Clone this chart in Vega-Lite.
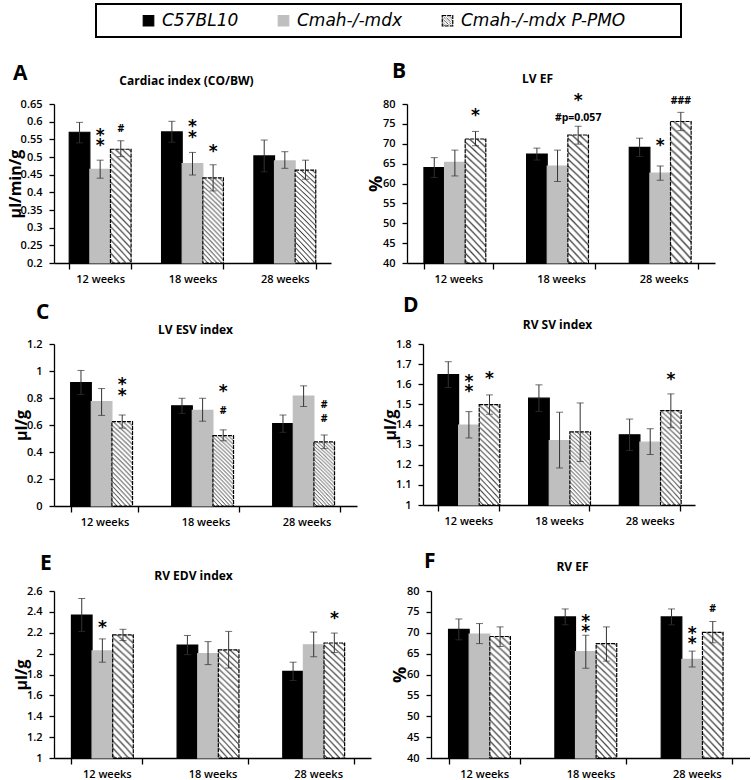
{
  "$schema": "https://vega.github.io/schema/vega-lite/v6.json",
  "padding": {"left": 7, "top": 3, "right": 0, "bottom": 0},
  "params": [
    {"name": "hatch", "expr": "{gradient:'radial',x1:-4.5,y1:5.5,r1:0,x2:-4.5,y2:5.5,r2:8,stops:[{offset:0.78,color:'#333'},{offset:0.7812,color:'#fff'},{offset:0.7838,color:'#fff'},{offset:0.785,color:'#333'},{offset:0.7862,color:'#fff'},{offset:0.7888,color:'#fff'},{offset:0.79,color:'#333'},{offset:0.7912,color:'#fff'},{offset:0.7938,color:'#fff'},{offset:0.795,color:'#333'},{offset:0.7962,color:'#fff'},{offset:0.7988,color:'#fff'},{offset:0.8,color:'#333'},{offset:0.8012,color:'#fff'},{offset:0.8038,color:'#fff'},{offset:0.805,color:'#333'},{offset:0.8062,color:'#fff'},{offset:0.8088,color:'#fff'},{offset:0.81,color:'#333'},{offset:0.8112,color:'#fff'},{offset:0.8138,color:'#fff'},{offset:0.815,color:'#333'},{offset:0.8162,color:'#fff'},{offset:0.8188,color:'#fff'},{offset:0.82,color:'#333'},{offset:0.8212,color:'#fff'},{offset:0.8238,color:'#fff'},{offset:0.825,color:'#333'},{offset:0.8262,color:'#fff'},{offset:0.8288,color:'#fff'},{offset:0.83,color:'#333'},{offset:0.8312,color:'#fff'},{offset:0.8338,color:'#fff'},{offset:0.835,color:'#333'},{offset:0.8362,color:'#fff'},{offset:0.8388,color:'#fff'},{offset:0.84,color:'#333'},{offset:0.8412,color:'#fff'},{offset:0.8438,color:'#fff'},{offset:0.845,color:'#333'},{offset:0.8462,color:'#fff'},{offset:0.8488,color:'#fff'},{offset:0.85,color:'#333'},{offset:0.8512,color:'#fff'},{offset:0.8538,color:'#fff'},{offset:0.855,color:'#333'},{offset:0.8562,color:'#fff'},{offset:0.8588,color:'#fff'},{offset:0.86,color:'#333'},{offset:0.8612,color:'#fff'},{offset:0.8638,color:'#fff'},{offset:0.865,color:'#333'},{offset:0.8662,color:'#fff'},{offset:0.8688,color:'#fff'},{offset:0.87,color:'#333'},{offset:0.8712,color:'#fff'},{offset:0.8738,color:'#fff'},{offset:0.875,color:'#333'},{offset:0.8762,color:'#fff'},{offset:0.8788,color:'#fff'},{offset:0.88,color:'#333'},{offset:0.8812,color:'#fff'},{offset:0.8838,color:'#fff'},{offset:0.885,color:'#333'},{offset:0.8862,color:'#fff'},{offset:0.8888,color:'#fff'},{offset:0.89,color:'#333'},{offset:0.8912,color:'#fff'},{offset:0.8938,color:'#fff'},{offset:0.895,color:'#333'},{offset:0.8962,color:'#fff'},{offset:0.8988,color:'#fff'},{offset:0.9,color:'#333'},{offset:0.9012,color:'#fff'},{offset:0.9038,color:'#fff'},{offset:0.905,color:'#333'},{offset:0.9062,color:'#fff'},{offset:0.9088,color:'#fff'},{offset:0.91,color:'#333'},{offset:0.9112,color:'#fff'},{offset:0.9138,color:'#fff'},{offset:0.915,color:'#333'},{offset:0.9162,color:'#fff'},{offset:0.9188,color:'#fff'},{offset:0.92,color:'#333'},{offset:0.9212,color:'#fff'},{offset:0.9238,color:'#fff'},{offset:0.925,color:'#333'},{offset:0.9262,color:'#fff'},{offset:0.9288,color:'#fff'},{offset:0.93,color:'#333'},{offset:0.9312,color:'#fff'},{offset:0.9338,color:'#fff'},{offset:0.935,color:'#333'},{offset:0.9362,color:'#fff'},{offset:0.9388,color:'#fff'},{offset:0.94,color:'#333'},{offset:0.9412,color:'#fff'},{offset:0.9438,color:'#fff'},{offset:0.945,color:'#333'},{offset:0.9462,color:'#fff'},{offset:0.9488,color:'#fff'},{offset:0.95,color:'#333'},{offset:0.9512,color:'#fff'},{offset:0.9538,color:'#fff'},{offset:0.955,color:'#333'},{offset:0.9562,color:'#fff'},{offset:0.9588,color:'#fff'},{offset:0.96,color:'#333'},{offset:0.9612,color:'#fff'},{offset:0.9638,color:'#fff'},{offset:0.965,color:'#333'},{offset:0.9662,color:'#fff'},{offset:0.9688,color:'#fff'},{offset:0.97,color:'#333'},{offset:0.9712,color:'#fff'},{offset:0.9738,color:'#fff'},{offset:0.975,color:'#333'},{offset:0.9762,color:'#fff'},{offset:0.9788,color:'#fff'},{offset:0.98,color:'#333'},{offset:0.9812,color:'#fff'},{offset:0.9838,color:'#fff'},{offset:0.985,color:'#333'}]}"}
  ],
  "config": {
    "font": "Open Sans",
    "view": {"stroke": null},
    "axis": {"labelFont": "Open Sans", "labelFontSize": 11, "labelFontWeight": 600, "labelColor": "#000", "domainColor": "#000", "domainWidth": 1.3, "tickColor": "#000", "tickWidth": 1.3, "grid": false, "titleFont": "Open Sans", "titleFontWeight": "bold", "titleColor": "#000"},
    "axisY": {"tickSize": 5, "labelPadding": 7, "titlePadding": -3, "titleFontSize": 16, "format": ".2~f"},
    "axisX": {"tickSize": 6, "labelPadding": 4, "tickBand": "extent", "labelAngle": 0},
    "title": {"font": "Open Sans", "fontSize": 21, "fontWeight": "bold", "color": "#000", "anchor": "start", "frame": "group", "baseline": "alphabetic"},
    "legend": {"symbolType": "square", "symbolSize": 110, "symbolStrokeWidth": 1.2, "symbolOffset": 36, "labelFont": "DejaVu Sans", "labelFontSize": 17, "labelFontStyle": "italic", "labelColor": "#000", "labelOffset": 5, "labelLimit": 400, "columnPadding": 0, "padding": 8, "strokeColor": "#000"}
  },
  "datasets": {
    "bars": [
      {"p":"A","w":"12 weeks","g":"C57BL10","m":0.57,"lo":0.54,"hi":0.598},
      {"p":"A","w":"12 weeks","g":"Cmah-/-mdx","m":0.465,"lo":0.44,"hi":0.491},
      {"p":"A","w":"12 weeks","g":"Cmah-/-mdx P-PMO","m":0.522,"lo":0.501,"hi":0.546},
      {"p":"A","w":"18 weeks","g":"C57BL10","m":0.571,"lo":0.542,"hi":0.601},
      {"p":"A","w":"18 weeks","g":"Cmah-/-mdx","m":0.481,"lo":0.449,"hi":0.513},
      {"p":"A","w":"18 weeks","g":"Cmah-/-mdx P-PMO","m":0.441,"lo":0.404,"hi":0.478},
      {"p":"A","w":"28 weeks","g":"C57BL10","m":0.503,"lo":0.458,"hi":0.548},
      {"p":"A","w":"28 weeks","g":"Cmah-/-mdx","m":0.489,"lo":0.468,"hi":0.515},
      {"p":"A","w":"28 weeks","g":"Cmah-/-mdx P-PMO","m":0.463,"lo":0.437,"hi":0.491},
      {"p":"B","w":"12 weeks","g":"C57BL10","m":64.0,"lo":61.5,"hi":66.5},
      {"p":"B","w":"12 weeks","g":"Cmah-/-mdx","m":65.3,"lo":61.9,"hi":68.4},
      {"p":"B","w":"12 weeks","g":"Cmah-/-mdx P-PMO","m":71.2,"lo":69.5,"hi":73.1},
      {"p":"B","w":"18 weeks","g":"C57BL10","m":67.4,"lo":65.9,"hi":68.9},
      {"p":"B","w":"18 weeks","g":"Cmah-/-mdx","m":64.4,"lo":60.5,"hi":68.4},
      {"p":"B","w":"18 weeks","g":"Cmah-/-mdx P-PMO","m":72.2,"lo":69.9,"hi":74.4},
      {"p":"B","w":"28 weeks","g":"C57BL10","m":69.1,"lo":66.8,"hi":71.4},
      {"p":"B","w":"28 weeks","g":"Cmah-/-mdx","m":62.6,"lo":60.8,"hi":64.4},
      {"p":"B","w":"28 weeks","g":"Cmah-/-mdx P-PMO","m":75.6,"lo":73.3,"hi":77.9},
      {"p":"C","w":"12 weeks","g":"C57BL10","m":0.915,"lo":0.826,"hi":1.004},
      {"p":"C","w":"12 weeks","g":"Cmah-/-mdx","m":0.773,"lo":0.671,"hi":0.87},
      {"p":"C","w":"12 weeks","g":"Cmah-/-mdx P-PMO","m":0.625,"lo":0.577,"hi":0.674},
      {"p":"C","w":"18 weeks","g":"C57BL10","m":0.742,"lo":0.686,"hi":0.798},
      {"p":"C","w":"18 weeks","g":"Cmah-/-mdx","m":0.709,"lo":0.628,"hi":0.798},
      {"p":"C","w":"18 weeks","g":"Cmah-/-mdx P-PMO","m":0.521,"lo":0.483,"hi":0.564},
      {"p":"C","w":"28 weeks","g":"C57BL10","m":0.61,"lo":0.546,"hi":0.674},
      {"p":"C","w":"28 weeks","g":"Cmah-/-mdx","m":0.814,"lo":0.737,"hi":0.89},
      {"p":"C","w":"28 weeks","g":"Cmah-/-mdx P-PMO","m":0.475,"lo":0.425,"hi":0.526},
      {"p":"D","w":"12 weeks","g":"C57BL10","m":1.648,"lo":1.584,"hi":1.712},
      {"p":"D","w":"12 weeks","g":"Cmah-/-mdx","m":1.397,"lo":1.333,"hi":1.464},
      {"p":"D","w":"12 weeks","g":"Cmah-/-mdx P-PMO","m":1.499,"lo":1.451,"hi":1.547},
      {"p":"D","w":"18 weeks","g":"C57BL10","m":1.531,"lo":1.465,"hi":1.597},
      {"p":"D","w":"18 weeks","g":"Cmah-/-mdx","m":1.32,"lo":1.184,"hi":1.461},
      {"p":"D","w":"18 weeks","g":"Cmah-/-mdx P-PMO","m":1.363,"lo":1.216,"hi":1.507},
      {"p":"D","w":"28 weeks","g":"C57BL10","m":1.349,"lo":1.271,"hi":1.427},
      {"p":"D","w":"28 weeks","g":"Cmah-/-mdx","m":1.312,"lo":1.251,"hi":1.379},
      {"p":"D","w":"28 weeks","g":"Cmah-/-mdx P-PMO","m":1.469,"lo":1.384,"hi":1.552},
      {"p":"E","w":"12 weeks","g":"C57BL10","m":2.37,"lo":2.213,"hi":2.528},
      {"p":"E","w":"12 weeks","g":"Cmah-/-mdx","m":2.026,"lo":1.918,"hi":2.141},
      {"p":"E","w":"12 weeks","g":"Cmah-/-mdx P-PMO","m":2.18,"lo":2.125,"hi":2.233},
      {"p":"E","w":"18 weeks","g":"C57BL10","m":2.082,"lo":1.99,"hi":2.174},
      {"p":"E","w":"18 weeks","g":"Cmah-/-mdx","m":2.0,"lo":1.895,"hi":2.115},
      {"p":"E","w":"18 weeks","g":"Cmah-/-mdx P-PMO","m":2.036,"lo":1.862,"hi":2.213},
      {"p":"E","w":"28 weeks","g":"C57BL10","m":1.83,"lo":1.742,"hi":1.918},
      {"p":"E","w":"28 weeks","g":"Cmah-/-mdx","m":2.085,"lo":1.97,"hi":2.207},
      {"p":"E","w":"28 weeks","g":"Cmah-/-mdx P-PMO","m":2.102,"lo":2.01,"hi":2.197},
      {"p":"F","w":"12 weeks","g":"C57BL10","m":70.8,"lo":68.3,"hi":73.3},
      {"p":"F","w":"12 weeks","g":"Cmah-/-mdx","m":69.7,"lo":67.4,"hi":72.2},
      {"p":"F","w":"12 weeks","g":"Cmah-/-mdx P-PMO","m":69.1,"lo":66.7,"hi":71.4},
      {"p":"F","w":"18 weeks","g":"C57BL10","m":73.8,"lo":71.9,"hi":75.7},
      {"p":"F","w":"18 weeks","g":"Cmah-/-mdx","m":65.5,"lo":61.5,"hi":69.4},
      {"p":"F","w":"18 weeks","g":"Cmah-/-mdx P-PMO","m":67.4,"lo":63.2,"hi":71.4},
      {"p":"F","w":"28 weeks","g":"C57BL10","m":73.8,"lo":71.9,"hi":75.7},
      {"p":"F","w":"28 weeks","g":"Cmah-/-mdx","m":63.6,"lo":61.8,"hi":65.6},
      {"p":"F","w":"28 weeks","g":"Cmah-/-mdx P-PMO","m":70.1,"lo":67.6,"hi":72.7}
    ],
    "notes": [
      {"p":"A","w":"12 weeks","g":"Cmah-/-mdx","y":0.574,"t":"*"},
      {"p":"A","w":"12 weeks","g":"Cmah-/-mdx","y":0.546,"t":"*"},
      {"p":"A","w":"12 weeks","g":"Cmah-/-mdx P-PMO","y":0.579,"t":"#"},
      {"p":"A","w":"18 weeks","g":"Cmah-/-mdx","y":0.598,"t":"*"},
      {"p":"A","w":"18 weeks","g":"Cmah-/-mdx","y":0.569,"t":"*"},
      {"p":"A","w":"18 weeks","g":"Cmah-/-mdx P-PMO","y":0.529,"t":"*"},
      {"p":"B","w":"12 weeks","g":"Cmah-/-mdx P-PMO","y":78.3,"t":"*"},
      {"p":"B","w":"18 weeks","g":"Cmah-/-mdx P-PMO","y":82.1,"t":"*"},
      {"p":"B","w":"18 weeks","g":"Cmah-/-mdx P-PMO","y":76.5,"t":"#p=0.057"},
      {"p":"B","w":"28 weeks","g":"Cmah-/-mdx","y":70.7,"t":"*"},
      {"p":"B","w":"28 weeks","g":"Cmah-/-mdx P-PMO","y":80.8,"t":"###"},
      {"p":"C","w":"12 weeks","g":"Cmah-/-mdx P-PMO","y":0.933,"t":"*"},
      {"p":"C","w":"12 weeks","g":"Cmah-/-mdx P-PMO","y":0.849,"t":"*"},
      {"p":"C","w":"18 weeks","g":"Cmah-/-mdx P-PMO","y":0.882,"t":"*"},
      {"p":"C","w":"18 weeks","g":"Cmah-/-mdx P-PMO","y":0.704,"t":"#"},
      {"p":"C","w":"28 weeks","g":"Cmah-/-mdx P-PMO","y":0.747,"t":"#"},
      {"p":"C","w":"28 weeks","g":"Cmah-/-mdx P-PMO","y":0.646,"t":"#"},
      {"p":"D","w":"12 weeks","g":"Cmah-/-mdx","y":1.637,"t":"*"},
      {"p":"D","w":"12 weeks","g":"Cmah-/-mdx","y":1.584,"t":"*"},
      {"p":"D","w":"12 weeks","g":"Cmah-/-mdx P-PMO","y":1.653,"t":"*"},
      {"p":"D","w":"28 weeks","g":"Cmah-/-mdx P-PMO","y":1.648,"t":"*"},
      {"p":"E","w":"12 weeks","g":"Cmah-/-mdx","y":2.295,"t":"*"},
      {"p":"E","w":"28 weeks","g":"Cmah-/-mdx P-PMO","y":2.377,"t":"*"},
      {"p":"F","w":"18 weeks","g":"Cmah-/-mdx","y":73.8,"t":"*"},
      {"p":"F","w":"18 weeks","g":"Cmah-/-mdx","y":71.4,"t":"*"},
      {"p":"F","w":"28 weeks","g":"Cmah-/-mdx","y":70.8,"t":"*"},
      {"p":"F","w":"28 weeks","g":"Cmah-/-mdx","y":68.4,"t":"*"},
      {"p":"F","w":"28 weeks","g":"Cmah-/-mdx P-PMO","y":75.7,"t":"#"}
    ]
  },
  "spacing": 11,
  "vconcat": [
    {
      "spacing": 36,
      "hconcat": [
        {
          "width": 277, "height": 159,
          "title": {"text": "A", "dx": -41, "offset": -10},
          "resolve": {"axis": {"x": "independent", "y": "independent"}},
          "layer": [
            {"data": {"name": "bars"}, "transform": [{"filter": "datum.p === 'A'"}],
             "mark": {"type": "bar", "strokeWidth": 1.2},
             "encoding": {
               "x": {"field": "w", "type": "nominal", "title": null, "sort": null, "scale": {"domain": ["12 weeks","18 weeks","28 weeks"], "paddingInner": 0.33, "paddingOuter": 0.165}},
               "xOffset": {"field": "g", "type": "nominal", "sort": null, "scale": {"domain": ["C57BL10","Cmah-/-mdx","Cmah-/-mdx P-PMO"], "paddingInner": 0, "paddingOuter": 0}},
               "y": {"field": "m", "type": "quantitative", "title": "µl/min/g", "scale": {"domain": [0.2, 0.65], "nice": false, "zero": false}, "axis": {"values": [0.2,0.25,0.3,0.35,0.4,0.45,0.5,0.55,0.6,0.65]}},
               "y2": {"datum": 0.2},
               "fill": {"field": "g", "type": "nominal", "scale": {"domain": ["C57BL10","Cmah-/-mdx","Cmah-/-mdx P-PMO"], "range": ["#000000", "#bfbfbf", {"expr": "hatch"}]}, "legend": {"orient": "none", "legendX": 42, "legendY": -100, "direction": "horizontal", "title": " ", "titleOrient": "right", "titlePadding": 48, "encode": {"legend": {"update": {"strokeWidth": {"value": 2}}}}}},
               "stroke": {"field": "g", "type": "nominal", "scale": {"domain": ["C57BL10","Cmah-/-mdx","Cmah-/-mdx P-PMO"], "range": ["#000000", "#bfbfbf", "#000000"]}, "legend": {"orient": "none", "legendX": 42, "legendY": -100, "direction": "horizontal", "title": " ", "titleOrient": "right", "titlePadding": 48}},
               "strokeDash": {"field": "g", "type": "nominal", "scale": {"domain": ["C57BL10","Cmah-/-mdx","Cmah-/-mdx P-PMO"], "range": [[1,0],[1,0],[4,1]]}, "legend": {"orient": "none", "legendX": 42, "legendY": -100, "direction": "horizontal", "title": " ", "titleOrient": "right", "titlePadding": 48}}
             }},
            {"data": {"name": "bars"}, "transform": [{"filter": "datum.p === 'A'"}],
             "mark": {"type": "rule", "color": "#333", "strokeWidth": 1},
             "encoding": {
               "x": {"field": "w", "type": "nominal", "sort": null, "axis": {"orient": "top", "title": "Cardiac index (CO/BW)", "labels": false, "ticks": false, "domain": false, "titleX": 132, "titleY": -20, "titleBaseline": "alphabetic", "titleAlign": "center", "titleFontSize": 12}},
               "xOffset": {"field": "g", "type": "nominal", "sort": null},
               "y": {"field": "lo", "type": "quantitative", "axis": null}, "y2": {"field": "hi"}
             }},
            {"data": {"name": "bars"}, "transform": [{"filter": "datum.p === 'A'"}],
             "mark": {"type": "tick", "orient": "horizontal", "size": 7, "thickness": 1, "color": "#333"},
             "encoding": {"x": {"field": "w", "type": "nominal", "sort": null, "axis": null}, "xOffset": {"field": "g", "type": "nominal", "sort": null}, "y": {"field": "hi", "type": "quantitative", "axis": null}}},
            {"data": {"name": "bars"}, "transform": [{"filter": "datum.p === 'A'"}],
             "mark": {"type": "tick", "orient": "horizontal", "size": 7, "thickness": 1, "color": "#333"},
             "encoding": {"x": {"field": "w", "type": "nominal", "sort": null, "axis": null}, "xOffset": {"field": "g", "type": "nominal", "sort": null}, "y": {"field": "lo", "type": "quantitative", "axis": null}}},
            {"data": {"name": "notes"}, "transform": [{"filter": "datum.p === 'A' && datum.t === '*'"}],
             "mark": {"type": "text", "font": "DejaVu Sans", "fontSize": 17, "fontWeight": "bold", "baseline": "middle", "dy": 5, "color": "#000"},
             "encoding": {"x": {"field": "w", "type": "nominal", "sort": null, "axis": null}, "xOffset": {"field": "g", "type": "nominal", "sort": null}, "y": {"field": "y", "type": "quantitative", "axis": null}, "text": {"field": "t"}}},
            {"data": {"name": "notes"}, "transform": [{"filter": "datum.p === 'A' && datum.t !== '*'"}],
             "mark": {"type": "text", "font": "Open Sans", "fontSize": 10.5, "fontWeight": "bold", "baseline": "middle", "color": "#000"},
             "encoding": {"x": {"field": "w", "type": "nominal", "sort": null, "axis": null}, "xOffset": {"field": "g", "type": "nominal", "sort": null}, "y": {"field": "y", "type": "quantitative", "axis": null}, "text": {"field": "t"}}}
          ]
        },
        {
          "width": 308, "height": 159,
          "title": {"text": "B", "dx": -15, "offset": -10},
          "resolve": {"axis": {"x": "independent", "y": "independent"}},
          "layer": [
            {"data": {"name": "bars"}, "transform": [{"filter": "datum.p === 'B'"}],
             "mark": {"type": "bar", "strokeWidth": 1.2},
             "encoding": {
               "x": {"field": "w", "type": "nominal", "title": null, "sort": null, "scale": {"domain": ["12 weeks","18 weeks","28 weeks"], "paddingInner": 0.33, "paddingOuter": 0.165}},
               "xOffset": {"field": "g", "type": "nominal", "sort": null, "scale": {"domain": ["C57BL10","Cmah-/-mdx","Cmah-/-mdx P-PMO"], "paddingInner": 0, "paddingOuter": 0}},
               "y": {"field": "m", "type": "quantitative", "title": "%", "scale": {"domain": [40, 80], "nice": false, "zero": false}, "axis": {"values": [40,45,50,55,60,65,70,75,80], "titleFontSize": 18}},
               "y2": {"datum": 40},
               "fill": {"field": "g", "type": "nominal"},
               "stroke": {"field": "g", "type": "nominal"},
               "strokeDash": {"field": "g", "type": "nominal"}
             }},
            {"data": {"name": "bars"}, "transform": [{"filter": "datum.p === 'B'"}],
             "mark": {"type": "rule", "color": "#333", "strokeWidth": 1},
             "encoding": {
               "x": {"field": "w", "type": "nominal", "sort": null, "axis": {"orient": "top", "title": "LV EF", "labels": false, "ticks": false, "domain": false, "titleX": 130, "titleY": -22, "titleBaseline": "alphabetic", "titleAlign": "center", "titleFontSize": 12}},
               "xOffset": {"field": "g", "type": "nominal", "sort": null},
               "y": {"field": "lo", "type": "quantitative", "axis": null}, "y2": {"field": "hi"}
             }},
            {"data": {"name": "bars"}, "transform": [{"filter": "datum.p === 'B'"}],
             "mark": {"type": "tick", "orient": "horizontal", "size": 7, "thickness": 1, "color": "#333"},
             "encoding": {"x": {"field": "w", "type": "nominal", "sort": null, "axis": null}, "xOffset": {"field": "g", "type": "nominal", "sort": null}, "y": {"field": "hi", "type": "quantitative", "axis": null}}},
            {"data": {"name": "bars"}, "transform": [{"filter": "datum.p === 'B'"}],
             "mark": {"type": "tick", "orient": "horizontal", "size": 7, "thickness": 1, "color": "#333"},
             "encoding": {"x": {"field": "w", "type": "nominal", "sort": null, "axis": null}, "xOffset": {"field": "g", "type": "nominal", "sort": null}, "y": {"field": "lo", "type": "quantitative", "axis": null}}},
            {"data": {"name": "notes"}, "transform": [{"filter": "datum.p === 'B' && datum.t === '*'"}],
             "mark": {"type": "text", "font": "DejaVu Sans", "fontSize": 17, "fontWeight": "bold", "baseline": "middle", "dy": 5, "color": "#000"},
             "encoding": {"x": {"field": "w", "type": "nominal", "sort": null, "axis": null}, "xOffset": {"field": "g", "type": "nominal", "sort": null}, "y": {"field": "y", "type": "quantitative", "axis": null}, "text": {"field": "t"}}},
            {"data": {"name": "notes"}, "transform": [{"filter": "datum.p === 'B' && datum.t !== '*'"}],
             "mark": {"type": "text", "font": "Open Sans", "fontSize": 10.5, "fontWeight": "bold", "baseline": "middle", "color": "#000"},
             "encoding": {"x": {"field": "w", "type": "nominal", "sort": null, "axis": null}, "xOffset": {"field": "g", "type": "nominal", "sort": null}, "y": {"field": "y", "type": "quantitative", "axis": null}, "text": {"field": "t"}}}
          ]
        }
      ]
    },
    {
      "spacing": 24,
      "vconcat": [
        {
          "spacing": 25,
          "hconcat": [
            {
              "width": 303, "height": 162,
              "title": {"text": "C", "dx": -18, "offset": 0},
              "resolve": {"axis": {"x": "independent", "y": "independent"}},
              "layer": [
                {"data": {"name": "bars"}, "transform": [{"filter": "datum.p === 'C'"}],
                 "mark": {"type": "bar", "strokeWidth": 1.2},
                 "encoding": {
                   "x": {"field": "w", "type": "nominal", "title": null, "sort": null, "scale": {"domain": ["12 weeks","18 weeks","28 weeks"], "paddingInner": 0.33, "paddingOuter": 0.165}},
                   "xOffset": {"field": "g", "type": "nominal", "sort": null, "scale": {"domain": ["C57BL10","Cmah-/-mdx","Cmah-/-mdx P-PMO"], "paddingInner": 0, "paddingOuter": 0}},
                   "y": {"field": "m", "type": "quantitative", "title": "µl/g", "scale": {"domain": [0, 1.2], "nice": false, "zero": false}, "axis": {"values": [0,0.2,0.4,0.6,0.8,1,1.2]}},
                   "y2": {"datum": 0},
                   "fill": {"field": "g", "type": "nominal"},
                   "stroke": {"field": "g", "type": "nominal"},
                   "strokeDash": {"field": "g", "type": "nominal"}
                 }},
                {"data": {"name": "bars"}, "transform": [{"filter": "datum.p === 'C'"}],
                 "mark": {"type": "rule", "color": "#333", "strokeWidth": 1},
                 "encoding": {
                   "x": {"field": "w", "type": "nominal", "sort": null, "axis": {"orient": "top", "title": "LV ESV index", "labels": false, "ticks": false, "domain": false, "titleX": 141, "titleY": -11, "titleBaseline": "alphabetic", "titleAlign": "center", "titleFontSize": 12}},
                   "xOffset": {"field": "g", "type": "nominal", "sort": null},
                   "y": {"field": "lo", "type": "quantitative", "axis": null}, "y2": {"field": "hi"}
                 }},
                {"data": {"name": "bars"}, "transform": [{"filter": "datum.p === 'C'"}],
                 "mark": {"type": "tick", "orient": "horizontal", "size": 7, "thickness": 1, "color": "#333"},
                 "encoding": {"x": {"field": "w", "type": "nominal", "sort": null, "axis": null}, "xOffset": {"field": "g", "type": "nominal", "sort": null}, "y": {"field": "hi", "type": "quantitative", "axis": null}}},
                {"data": {"name": "bars"}, "transform": [{"filter": "datum.p === 'C'"}],
                 "mark": {"type": "tick", "orient": "horizontal", "size": 7, "thickness": 1, "color": "#333"},
                 "encoding": {"x": {"field": "w", "type": "nominal", "sort": null, "axis": null}, "xOffset": {"field": "g", "type": "nominal", "sort": null}, "y": {"field": "lo", "type": "quantitative", "axis": null}}},
                {"data": {"name": "notes"}, "transform": [{"filter": "datum.p === 'C' && datum.t === '*'"}],
                 "mark": {"type": "text", "font": "DejaVu Sans", "fontSize": 17, "fontWeight": "bold", "baseline": "middle", "dy": 5, "color": "#000"},
                 "encoding": {"x": {"field": "w", "type": "nominal", "sort": null, "axis": null}, "xOffset": {"field": "g", "type": "nominal", "sort": null}, "y": {"field": "y", "type": "quantitative", "axis": null}, "text": {"field": "t"}}},
                {"data": {"name": "notes"}, "transform": [{"filter": "datum.p === 'C' && datum.t !== '*'"}],
                 "mark": {"type": "text", "font": "Open Sans", "fontSize": 10.5, "fontWeight": "bold", "baseline": "middle", "color": "#000"},
                 "encoding": {"x": {"field": "w", "type": "nominal", "sort": null, "axis": null}, "xOffset": {"field": "g", "type": "nominal", "sort": null}, "y": {"field": "y", "type": "quantitative", "axis": null}, "text": {"field": "t"}}}
              ]
            },
            {
              "width": 272, "height": 161,
              "title": {"text": "D", "dx": -20, "offset": 2},
              "resolve": {"axis": {"x": "independent", "y": "independent"}},
              "layer": [
                {"data": {"name": "bars"}, "transform": [{"filter": "datum.p === 'D'"}],
                 "mark": {"type": "bar", "strokeWidth": 1.2},
                 "encoding": {
                   "x": {"field": "w", "type": "nominal", "title": null, "sort": null, "scale": {"domain": ["12 weeks","18 weeks","28 weeks"], "paddingInner": 0.33, "paddingOuter": 0.165}},
                   "xOffset": {"field": "g", "type": "nominal", "sort": null, "scale": {"domain": ["C57BL10","Cmah-/-mdx","Cmah-/-mdx P-PMO"], "paddingInner": 0, "paddingOuter": 0}},
                   "y": {"field": "m", "type": "quantitative", "title": "µl/g", "scale": {"domain": [1, 1.8], "nice": false, "zero": false}, "axis": {"values": [1,1.1,1.2,1.3,1.4,1.5,1.6,1.7,1.8]}},
                   "y2": {"datum": 1},
                   "fill": {"field": "g", "type": "nominal"},
                   "stroke": {"field": "g", "type": "nominal"},
                   "strokeDash": {"field": "g", "type": "nominal"}
                 }},
                {"data": {"name": "bars"}, "transform": [{"filter": "datum.p === 'D'"}],
                 "mark": {"type": "rule", "color": "#333", "strokeWidth": 1},
                 "encoding": {
                   "x": {"field": "w", "type": "nominal", "sort": null, "axis": {"orient": "top", "title": "RV SV index", "labels": false, "ticks": false, "domain": false, "titleX": 134, "titleY": -16, "titleBaseline": "alphabetic", "titleAlign": "center", "titleFontSize": 12}},
                   "xOffset": {"field": "g", "type": "nominal", "sort": null},
                   "y": {"field": "lo", "type": "quantitative", "axis": null}, "y2": {"field": "hi"}
                 }},
                {"data": {"name": "bars"}, "transform": [{"filter": "datum.p === 'D'"}],
                 "mark": {"type": "tick", "orient": "horizontal", "size": 7, "thickness": 1, "color": "#333"},
                 "encoding": {"x": {"field": "w", "type": "nominal", "sort": null, "axis": null}, "xOffset": {"field": "g", "type": "nominal", "sort": null}, "y": {"field": "hi", "type": "quantitative", "axis": null}}},
                {"data": {"name": "bars"}, "transform": [{"filter": "datum.p === 'D'"}],
                 "mark": {"type": "tick", "orient": "horizontal", "size": 7, "thickness": 1, "color": "#333"},
                 "encoding": {"x": {"field": "w", "type": "nominal", "sort": null, "axis": null}, "xOffset": {"field": "g", "type": "nominal", "sort": null}, "y": {"field": "lo", "type": "quantitative", "axis": null}}},
                {"data": {"name": "notes"}, "transform": [{"filter": "datum.p === 'D' && datum.t === '*'"}],
                 "mark": {"type": "text", "font": "DejaVu Sans", "fontSize": 17, "fontWeight": "bold", "baseline": "middle", "dy": 5, "color": "#000"},
                 "encoding": {"x": {"field": "w", "type": "nominal", "sort": null, "axis": null}, "xOffset": {"field": "g", "type": "nominal", "sort": null}, "y": {"field": "y", "type": "quantitative", "axis": null}, "text": {"field": "t"}}}
              ]
            }
          ]
        },
        {
          "spacing": 20,
          "hconcat": [
            {
              "width": 317, "height": 167,
              "title": {"text": "E", "dx": -14, "offset": -5},
              "resolve": {"axis": {"x": "independent", "y": "independent"}},
              "layer": [
                {"data": {"name": "bars"}, "transform": [{"filter": "datum.p === 'E'"}],
                 "mark": {"type": "bar", "strokeWidth": 1.2},
                 "encoding": {
                   "x": {"field": "w", "type": "nominal", "title": null, "sort": null, "scale": {"domain": ["12 weeks","18 weeks","28 weeks"], "paddingInner": 0.33, "paddingOuter": 0.165}},
                   "xOffset": {"field": "g", "type": "nominal", "sort": null, "scale": {"domain": ["C57BL10","Cmah-/-mdx","Cmah-/-mdx P-PMO"], "paddingInner": 0, "paddingOuter": 0}},
                   "y": {"field": "m", "type": "quantitative", "title": "µl/g", "scale": {"domain": [1, 2.6], "nice": false, "zero": false}, "axis": {"values": [1,1.2,1.4,1.6,1.8,2,2.2,2.4,2.6]}},
                   "y2": {"datum": 1},
                   "fill": {"field": "g", "type": "nominal"},
                   "stroke": {"field": "g", "type": "nominal"},
                   "strokeDash": {"field": "g", "type": "nominal"}
                 }},
                {"data": {"name": "bars"}, "transform": [{"filter": "datum.p === 'E'"}],
                 "mark": {"type": "rule", "color": "#333", "strokeWidth": 1},
                 "encoding": {
                   "x": {"field": "w", "type": "nominal", "sort": null, "axis": {"orient": "top", "title": "RV EDV index", "labels": false, "ticks": false, "domain": false, "titleX": 139, "titleY": -12, "titleBaseline": "alphabetic", "titleAlign": "center", "titleFontSize": 12}},
                   "xOffset": {"field": "g", "type": "nominal", "sort": null},
                   "y": {"field": "lo", "type": "quantitative", "axis": null}, "y2": {"field": "hi"}
                 }},
                {"data": {"name": "bars"}, "transform": [{"filter": "datum.p === 'E'"}],
                 "mark": {"type": "tick", "orient": "horizontal", "size": 7, "thickness": 1, "color": "#333"},
                 "encoding": {"x": {"field": "w", "type": "nominal", "sort": null, "axis": null}, "xOffset": {"field": "g", "type": "nominal", "sort": null}, "y": {"field": "hi", "type": "quantitative", "axis": null}}},
                {"data": {"name": "bars"}, "transform": [{"filter": "datum.p === 'E'"}],
                 "mark": {"type": "tick", "orient": "horizontal", "size": 7, "thickness": 1, "color": "#333"},
                 "encoding": {"x": {"field": "w", "type": "nominal", "sort": null, "axis": null}, "xOffset": {"field": "g", "type": "nominal", "sort": null}, "y": {"field": "lo", "type": "quantitative", "axis": null}}},
                {"data": {"name": "notes"}, "transform": [{"filter": "datum.p === 'E' && datum.t === '*'"}],
                 "mark": {"type": "text", "font": "DejaVu Sans", "fontSize": 17, "fontWeight": "bold", "baseline": "middle", "dy": 5, "color": "#000"},
                 "encoding": {"x": {"field": "w", "type": "nominal", "sort": null, "axis": null}, "xOffset": {"field": "g", "type": "nominal", "sort": null}, "y": {"field": "y", "type": "quantitative", "axis": null}, "text": {"field": "t"}}}
              ]
            },
            {
              "width": 319, "height": 167,
              "title": {"text": "F", "dx": -7, "offset": -12},
              "resolve": {"axis": {"x": "independent", "y": "independent"}},
              "layer": [
                {"data": {"name": "bars"}, "transform": [{"filter": "datum.p === 'F'"}],
                 "mark": {"type": "bar", "strokeWidth": 1.2},
                 "encoding": {
                   "x": {"field": "w", "type": "nominal", "title": null, "sort": null, "scale": {"domain": ["12 weeks","18 weeks","28 weeks"], "paddingInner": 0.33, "paddingOuter": 0.165}},
                   "xOffset": {"field": "g", "type": "nominal", "sort": null, "scale": {"domain": ["C57BL10","Cmah-/-mdx","Cmah-/-mdx P-PMO"], "paddingInner": 0, "paddingOuter": 0}},
                   "y": {"field": "m", "type": "quantitative", "title": "%", "scale": {"domain": [40, 80], "nice": false, "zero": false}, "axis": {"values": [40,45,50,55,60,65,70,75,80], "titleFontSize": 18}},
                   "y2": {"datum": 40},
                   "fill": {"field": "g", "type": "nominal"},
                   "stroke": {"field": "g", "type": "nominal"},
                   "strokeDash": {"field": "g", "type": "nominal"}
                 }},
                {"data": {"name": "bars"}, "transform": [{"filter": "datum.p === 'F'"}],
                 "mark": {"type": "rule", "color": "#333", "strokeWidth": 1},
                 "encoding": {
                   "x": {"field": "w", "type": "nominal", "sort": null, "axis": {"orient": "top", "title": "RV EF", "labels": false, "ticks": false, "domain": false, "titleX": 141, "titleY": -21, "titleBaseline": "alphabetic", "titleAlign": "center", "titleFontSize": 12}},
                   "xOffset": {"field": "g", "type": "nominal", "sort": null},
                   "y": {"field": "lo", "type": "quantitative", "axis": null}, "y2": {"field": "hi"}
                 }},
                {"data": {"name": "bars"}, "transform": [{"filter": "datum.p === 'F'"}],
                 "mark": {"type": "tick", "orient": "horizontal", "size": 7, "thickness": 1, "color": "#333"},
                 "encoding": {"x": {"field": "w", "type": "nominal", "sort": null, "axis": null}, "xOffset": {"field": "g", "type": "nominal", "sort": null}, "y": {"field": "hi", "type": "quantitative", "axis": null}}},
                {"data": {"name": "bars"}, "transform": [{"filter": "datum.p === 'F'"}],
                 "mark": {"type": "tick", "orient": "horizontal", "size": 7, "thickness": 1, "color": "#333"},
                 "encoding": {"x": {"field": "w", "type": "nominal", "sort": null, "axis": null}, "xOffset": {"field": "g", "type": "nominal", "sort": null}, "y": {"field": "lo", "type": "quantitative", "axis": null}}},
                {"data": {"name": "notes"}, "transform": [{"filter": "datum.p === 'F' && datum.t === '*'"}],
                 "mark": {"type": "text", "font": "DejaVu Sans", "fontSize": 17, "fontWeight": "bold", "baseline": "middle", "dy": 5, "color": "#000"},
                 "encoding": {"x": {"field": "w", "type": "nominal", "sort": null, "axis": null}, "xOffset": {"field": "g", "type": "nominal", "sort": null}, "y": {"field": "y", "type": "quantitative", "axis": null}, "text": {"field": "t"}}},
                {"data": {"name": "notes"}, "transform": [{"filter": "datum.p === 'F' && datum.t !== '*'"}],
                 "mark": {"type": "text", "font": "Open Sans", "fontSize": 10.5, "fontWeight": "bold", "baseline": "middle", "color": "#000"},
                 "encoding": {"x": {"field": "w", "type": "nominal", "sort": null, "axis": null}, "xOffset": {"field": "g", "type": "nominal", "sort": null}, "y": {"field": "y", "type": "quantitative", "axis": null}, "text": {"field": "t"}}}
              ]
            }
          ]
        }
      ]
    }
  ]
}
